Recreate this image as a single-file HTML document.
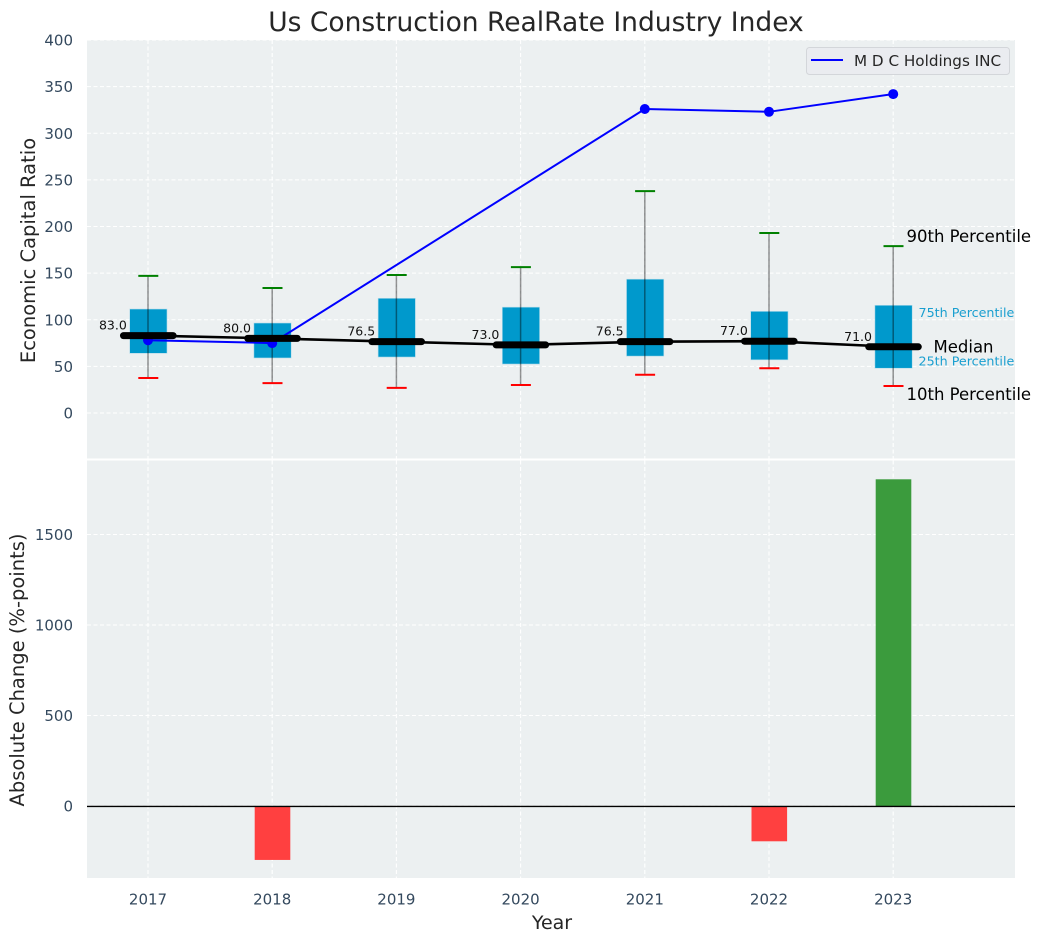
<!DOCTYPE html>
<html>
<head>
<meta charset="utf-8">
<title>Us Construction RealRate Industry Index</title>
<style>
html,body{margin:0;padding:0;background:#fff;width:1041px;height:942px;overflow:hidden}
svg{display:block;font-family:"DejaVu Sans","Liberation Sans",sans-serif}
</style>
</head>
<body>
<svg id="chart" width="1041" height="942" viewBox="0 0 1041 942" xmlns="http://www.w3.org/2000/svg">
  <rect x="87" y="40" width="928" height="418.5" fill="#ecf0f1"/>
  <rect x="87" y="460.5" width="928" height="417.5" fill="#ecf0f1"/>
  <g id="grid"></g>
  <g id="upper"></g>
  <g id="lower"></g>
  <g id="ticks"></g>
  <text x="536" y="31" text-anchor="middle" font-size="26.5" fill="#262626">Us Construction RealRate Industry Index</text>
  <text transform="translate(35,250.5) rotate(-90)" text-anchor="middle" font-size="19.5" fill="#262626">Economic Capital Ratio</text>
  <text transform="translate(24,670) rotate(-90)" text-anchor="middle" font-size="19.5" fill="#262626">Absolute Change (%-points)</text>
  <text x="552" y="929" text-anchor="middle" font-size="19" fill="#262626">Year</text>
  <g>
    <rect x="806.5" y="47.5" width="203" height="27" rx="3" fill="#eaecf0" stroke="#d3d6da" stroke-width="1"/>
    <line x1="811" y1="60" x2="843" y2="60" stroke="#0000ff" stroke-width="2"/>
    <text x="854" y="66" font-size="15.2" fill="#262626">M D C Holdings INC</text>
  </g>
</svg>
<script>
var years = [2017, 2018, 2019, 2020, 2021, 2022, 2023];
var p10 = [37.5, 32, 27, 30, 41, 48, 29];
var p25 = [64, 59, 60, 52.5, 61, 57, 48];
var medians = [83, 80, 76.5, 73, 76.5, 77, 71];
var p75 = [111.5, 96.5, 123, 113.5, 143.5, 109, 115.5];
var p90 = [147, 134, 148, 156.5, 238, 193, 179];
var company = [78, 75, null, null, 326, 323, 342];
var changes = [null, -298, null, null, null, -195, 1805];
var upperTicks = [0, 50, 100, 150, 200, 250, 300, 350, 400];
var lowerTicks = [0, 500, 1000, 1500];

var NS = 'http://www.w3.org/2000/svg';
function xS(v){ return 148.3 + (v - 2017) * 124.2; }
function yU(v){ return 413 - v * 0.9325; }
function yL(v){ return 806 - v * 0.181; }
function mk(parent, tag, attrs, text){
  var e = document.createElementNS(NS, tag);
  for (var k in attrs) e.setAttribute(k, attrs[k]);
  if (text !== undefined) e.textContent = text;
  parent.appendChild(e);
  return e;
}
var grid = document.getElementById('grid');
var upper = document.getElementById('upper');
var lower = document.getElementById('lower');
var ticks = document.getElementById('ticks');
var gridStyle = {stroke:'#ffffff','stroke-width':1.1,'stroke-dasharray':'4 2.5'};
function gridLine(x1,y1,x2,y2){
  var l = mk(grid,'line',Object.assign({x1:x1,y1:y1,x2:x2,y2:y2},gridStyle));
  
  
}
upperTicks.forEach(function(t){
  gridLine(87,yU(t),1015,yU(t));
  var s = mk(ticks,'text',{x:73,y:yU(t)+5.5,'text-anchor':'end','font-size':15,fill:'#34495e'},t);
  
  
});
lowerTicks.forEach(function(t){
  gridLine(87,yL(t),1015,yL(t));
  var s = mk(ticks,'text',{x:73,y:yL(t)+5.5,'text-anchor':'end','font-size':15,fill:'#34495e'},t);
  
  
});
years.forEach(function(y){
  gridLine(xS(y)-0.3,40,xS(y)-0.3,458.5);
  gridLine(xS(y)-0.3,460.5,xS(y)-0.3,878);
  var s = mk(ticks,'text',{x:xS(y)-0.3,y:904.5,'text-anchor':'middle','font-size':15,fill:'#34495e'},y);
  
  
});

/* boxes and whiskers */
years.forEach(function(y,i){
  var c = xS(y);
  var b = mk(upper,'rect',{x:c-18.6,y:yU(p75[i]),width:37.3,height:yU(p25[i])-yU(p75[i]),fill:'#0099cc',stroke:'#b5dcea','stroke-width':0.6});
  
  
  var w = mk(upper,'line',{x1:c-0.3,y1:yU(p90[i]),x2:c-0.3,y2:yU(p10[i]),stroke:'#000000','stroke-opacity':0.42,'stroke-width':1.5});
  
  
  var hi = mk(upper,'line',{x1:c-10,y1:yU(p90[i]),x2:c+10,y2:yU(p90[i]),stroke:'#008000','stroke-width':2});
  
  
  var lo = mk(upper,'line',{x1:c-10,y1:yU(p10[i]),x2:c+10,y2:yU(p10[i]),stroke:'#ff0000','stroke-width':2});
  
  
});

/* company series */
var companyPts = [];
years.forEach(function(y,i){ if (company[i] !== null) companyPts.push(xS(y)-0.3 + ',' + yU(company[i])); });
var compLine = mk(upper,'polyline',{points:companyPts.join(' '),fill:'none',stroke:'#0000ff','stroke-width':2});


years.forEach(function(y,i){
  if (company[i] === null) return;
  var d = mk(upper,'circle',{cx:xS(y)-0.3,cy:yU(company[i]),r:5,fill:'#0000ff'});
  
  
});

/* median */
var medPts = years.map(function(y,i){ return xS(y) + ',' + yU(medians[i]); }).join(' ');
var medLine = mk(upper,'polyline',{points:medPts,fill:'none',stroke:'#000000','stroke-width':2.6});


years.forEach(function(y,i){
  var c = xS(y);
  var m = mk(upper,'line',{x1:c-24.8,y1:yU(medians[i]),x2:c+24.8,y2:yU(medians[i]),stroke:'#000000','stroke-width':7,'stroke-linecap':'round'});
  
  
  var t = mk(upper,'text',{x:c-21.5,y:yU(medians[i])-6,'text-anchor':'end','font-size':12.5,fill:'#111111'},medians[i].toFixed(1));
  
  
});

/* annotations on the final year */
var last = years.length - 1;
var lx = xS(years[last]);
var a1 = mk(upper,'text',{x:lx+13,y:yU(p90[last])-4,'font-size':16.5,fill:'#000000'},'90th Percentile');


var a2 = mk(upper,'text',{x:lx+25,y:yU(p75[last])+11.5,'font-size':12.7,fill:'#1a9fd0'},'75th Percentile');


var a3 = mk(upper,'text',{x:lx+40,y:yU(medians[last])+5.5,'font-size':16.5,fill:'#000000'},'Median');


var a4 = mk(upper,'text',{x:lx+25,y:yU(p25[last])-2.5,'font-size':12.7,fill:'#1a9fd0'},'25th Percentile');


var a5 = mk(upper,'text',{x:lx+13,y:yU(p10[last])+14,'font-size':16.5,fill:'#000000'},'10th Percentile');



/* change bars */
years.forEach(function(y,i){
  if (changes[i] === null) return;
  var v = changes[i];
  var top = Math.min(yL(0),yL(v));
  var b = mk(lower,'rect',{x:xS(y)-17.8,y:top,width:35.6,height:Math.abs(yL(v)-yL(0)),fill:v<0?'#ff4040':'#3b9b3d'});
  
  
});
var zero = mk(lower,'line',{x1:87,y1:yL(0)+0.4,x2:1015,y2:yL(0)+0.4,stroke:'#000000','stroke-width':1.4});


</script>
</body>
</html>
